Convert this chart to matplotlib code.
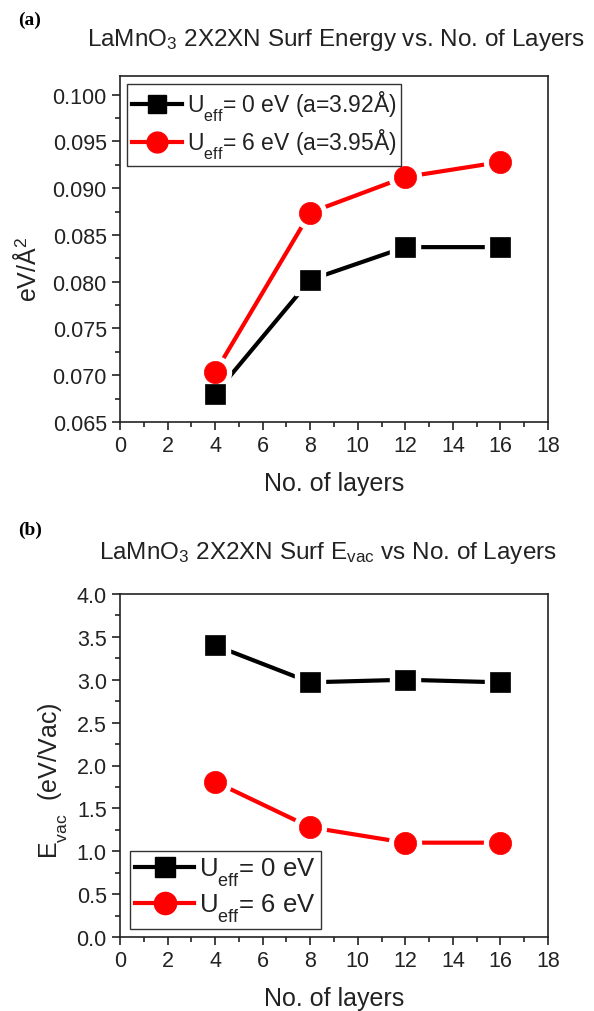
import matplotlib
matplotlib.use("Agg")
import matplotlib.pyplot as plt
from matplotlib.lines import Line2D
from matplotlib.ticker import MultipleLocator, FormatStrFormatter

plt.rcParams['font.family'] = ['Liberation Sans', 'DejaVu Sans']
plt.rcParams['mathtext.fontset'] = 'custom'
plt.rcParams['mathtext.rm'] = 'Liberation Sans'
plt.rcParams['mathtext.it'] = 'Liberation Serif:italic'
plt.rcParams['mathtext.bf'] = 'Liberation Sans:bold'

# Origin-style deep subscripts for labels written as U$_{\rm eff}$
try:
    import matplotlib._mathtext as _mt

    class _DeepSub(_mt.FontConstantsBase):
        subdrop = 0.85
        sub1 = 0.85

    _mt._font_constant_mapping['Liberation Serif'] = _DeepSub
except Exception:
    pass

# ---- data ----
layers = [4, 8, 12, 16]
surf_u0 = [0.0680, 0.0802, 0.0837, 0.0837]
surf_u6 = [0.0703, 0.0874, 0.0912, 0.0928]
evac_u0 = [3.40, 2.97, 3.00, 2.97]
evac_u6 = [1.81, 1.28, 1.10, 1.10]

labels_a = [r'U$_{\rm eff}$= 0 eV (a=3.92Å)', r'U$_{\rm eff}$= 6 eV (a=3.95Å)']
labels_b = [r'U$_{\rm eff}$= 0 eV', r'U$_{\rm eff}$= 6 eV']

BLACK = '#000000'
RED = '#ff0000'
TXT = '#222222'

W, H = 594, 1012
fig = plt.figure(figsize=(W / 100, H / 100), dpi=100)


def ax_rect(l, t, r, b):
    return [l / W, 1 - b / H, (r - l) / W, (b - t) / H]


ax_a = fig.add_axes(ax_rect(120, 77, 548, 423))
ax_b = fig.add_axes(ax_rect(120, 595, 548, 938))

LW = 3.0
MS_SQ = 14
MS_CI = 16


def draw_series(ax, x, y, color, marker, ms):
    ax.plot(x, y, color=color, lw=LW, solid_capstyle='round', zorder=2)
    ax.plot(x, y, ls='none', marker=marker, ms=ms + 7, mfc='white', mec='white', zorder=3)
    ax.plot(x, y, ls='none', marker=marker, ms=ms, mfc=color, mec=color, mew=0.5, zorder=4)


def style_axes(ax):
    for s in ax.spines.values():
        s.set_linewidth(1.2)
        s.set_color('#222222')
    ax.xaxis.set_major_locator(MultipleLocator(2))
    ax.xaxis.set_minor_locator(MultipleLocator(1))
    ax.set_xlim(0, 18)
    ax.tick_params(axis='both', which='major', direction='out', length=6, width=1.2,
                   labelsize=15.5, colors='#222222', labelcolor=TXT, top=False, right=False)
    ax.tick_params(axis='both', which='minor', direction='out', length=3.5, width=1.2,
                   colors='#222222', top=False, right=False)
    ax.set_xlabel('No. of layers', fontsize=18, color=TXT, labelpad=11)


# Panel a
draw_series(ax_a, layers, surf_u0, BLACK, 's', MS_SQ)
draw_series(ax_a, layers, surf_u6, RED, 'o', MS_CI)
style_axes(ax_a)
ax_a.set_ylim(0.065, 0.102)
ax_a.yaxis.set_major_locator(MultipleLocator(0.005))
ax_a.yaxis.set_minor_locator(MultipleLocator(0.0025))
ax_a.yaxis.set_major_formatter(FormatStrFormatter('%.3f'))
ax_a.set_ylabel('eV/Å$^2$', fontsize=18, color=TXT)
ax_a.yaxis.set_label_coords(-0.185, 0.445)

h_a = [Line2D([], [], color=BLACK, lw=LW, marker='s', ms=MS_SQ - 1),
       Line2D([], [], color=RED, lw=LW, marker='o', ms=MS_CI - 1)]
leg_a = ax_a.legend(h_a, labels_a, loc='upper left', bbox_to_anchor=(0.017, 0.977),
                    fontsize=16.5, frameon=True, fancybox=False, edgecolor='black',
                    handlelength=2.2, handletextpad=0.2, borderpad=0.2, labelspacing=0.18,
                    borderaxespad=0)
leg_a.get_frame().set_linewidth(1.0)
for t in leg_a.get_texts():
    t.set_color(TXT)

# Panel b
draw_series(ax_b, layers, evac_u0, BLACK, 's', MS_SQ)
draw_series(ax_b, layers, evac_u6, RED, 'o', MS_CI)
style_axes(ax_b)
ax_b.set_ylim(0.0, 4.0)
ax_b.yaxis.set_major_locator(MultipleLocator(0.5))
ax_b.yaxis.set_minor_locator(MultipleLocator(0.25))
ax_b.yaxis.set_major_formatter(FormatStrFormatter('%.1f'))
ax_b.set_ylabel(r'E$_{\rm vac}$  (eV/Vac)', fontsize=18, color=TXT)
ax_b.yaxis.set_label_coords(-0.117, 0.458)

h_b = [Line2D([], [], color=BLACK, lw=LW, marker='s', ms=MS_SQ),
       Line2D([], [], color=RED, lw=LW, marker='o', ms=MS_CI)]
leg_b = ax_b.legend(h_b, labels_b, loc='lower left', bbox_to_anchor=(0.023, 0.023),
                    fontsize=18.5, frameon=True, fancybox=False, edgecolor='black',
                    handlelength=2.3, handletextpad=0.2, borderpad=0.2, labelspacing=0.15,
                    borderaxespad=0)
leg_b.get_frame().set_linewidth(1.0)
for t in leg_b.get_texts():
    t.set_color(TXT)

# Titles and panel labels
fig.text(18 / W, 1 - 20 / H, '(a)', fontsize=14, fontweight='bold',
         family=['Liberation Serif', 'DejaVu Serif'], va='center', ha='left')
fig.text(336 / W, 1 - 40 / H, r'LaMnO$\rm_3$ 2X2XN Surf Energy vs. No. of Layers',
         fontsize=17.5, ha='center', va='center', color=TXT)
fig.text(18 / W, 1 - 530 / H, '(b)', fontsize=14, fontweight='bold',
         family=['Liberation Serif', 'DejaVu Serif'], va='center', ha='left')
fig.text(328 / W, 1 - 553 / H, r'LaMnO$\rm_3$ 2X2XN Surf E$\rm_{vac}$ vs No. of Layers',
         fontsize=17.5, ha='center', va='center', color=TXT)

fig.savefig('out.png', dpi=100)
